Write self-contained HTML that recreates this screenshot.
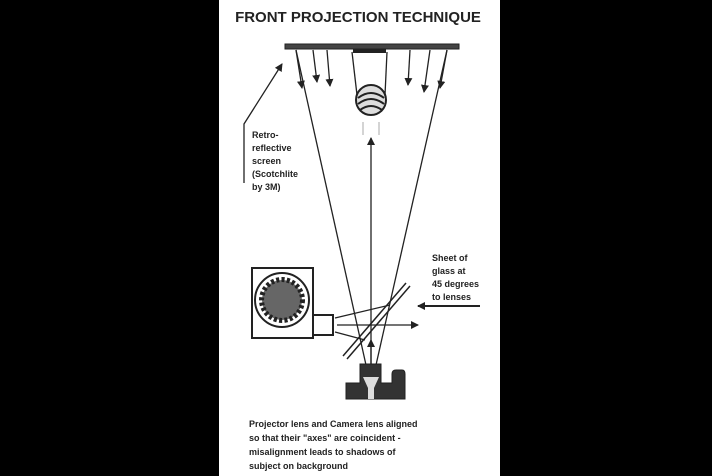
<!DOCTYPE html>
<html><head><style>
body{margin:0;width:712px;height:476px;background:#000;overflow:hidden}
svg{display:block}
text{font-family:"Liberation Sans",sans-serif;font-weight:bold;fill:#222}
</style></head><body>
<svg width="712" height="476" viewBox="0 0 712 476">
<defs><marker id="a" markerWidth="8" markerHeight="8" refX="7" refY="4" orient="auto" markerUnits="userSpaceOnUse"><path d="M0,0 L8,4 L0,8 Z" fill="#222"/></marker></defs>
<rect x="219" y="0" width="281" height="476" fill="#fff"/>
<text x="358" y="22" font-size="15" text-anchor="middle">FRONT PROJECTION TECHNIQUE</text>
<rect x="285" y="44" width="174" height="5" fill="#444" stroke="#222"/>
<rect x="353" y="49" width="33" height="4" fill="#222"/>
<g stroke="#222" stroke-width="1.3" fill="none">
<line x1="313" y1="50" x2="317" y2="82" marker-end="url(#a)"/>
<line x1="327" y1="50" x2="330" y2="86" marker-end="url(#a)"/>
<line x1="410" y1="50" x2="408" y2="85" marker-end="url(#a)"/>
<line x1="430" y1="50" x2="424" y2="92" marker-end="url(#a)"/>
<line x1="296" y1="50" x2="302" y2="88" marker-end="url(#a)"/>
<line x1="447" y1="50" x2="440" y2="88" marker-end="url(#a)"/>
<line x1="296" y1="50" x2="366" y2="365"/>
<line x1="447" y1="50" x2="376" y2="365"/>
<line x1="371" y1="365" x2="371" y2="138" marker-end="url(#a)"/>
<line x1="352" y1="52" x2="357" y2="95"/>
<line x1="387" y1="52" x2="385" y2="95"/>
<polyline points="244,183 244,124 282,64" marker-end="url(#a)"/>
<line x1="480" y1="306" x2="418" y2="306" stroke-width="2" marker-end="url(#a)"/>
<line x1="337" y1="325" x2="418" y2="325" marker-end="url(#a)"/>
<line x1="335" y1="318" x2="390" y2="305"/>
<line x1="335" y1="332" x2="365" y2="340"/>
<line x1="371" y1="370" x2="371" y2="340" marker-end="url(#a)"/>
</g>
<circle cx="371" cy="100" r="15" fill="#ddd" stroke="#222" stroke-width="2"/>
<path d="M358,98 Q371,88 384,98 M358,104 Q371,94 384,104 M360,110 Q371,102 382,110" stroke="#222" fill="none" stroke-width="2"/>
<g stroke="#aaa" stroke-width="1"><line x1="363" y1="135" x2="363" y2="122"/><line x1="379" y1="135" x2="379" y2="122"/></g>
<rect x="252" y="268" width="61" height="70" fill="#fff" stroke="#222" stroke-width="2"/>
<rect x="313" y="315" width="20" height="20" fill="#fff" stroke="#222" stroke-width="2"/>
<circle cx="282" cy="300" r="27" fill="#fff" stroke="#222" stroke-width="2"/>
<circle cx="282" cy="300" r="20" fill="#666" stroke="#222" stroke-width="6" stroke-dasharray="3 2.2"/>
<circle cx="282" cy="300" r="18" fill="#666"/>
<g stroke="#222" stroke-width="1.5"><line x1="343" y1="356" x2="406" y2="283"/><line x1="347" y1="359" x2="410" y2="286"/></g>
<path d="M346,383 H360 V364 H381 V383 H392 V374 Q392,370 396,370 H402 Q405,370 405,374 V399 H346 Z" fill="#333" stroke="#222"/>
<path d="M363,377 L379,377 L374,388 L368,388 Z" fill="#ddd"/>
<rect x="368" y="388" width="6" height="11" fill="#ddd"/>
<g font-size="9">
<text x="252" y="138">Retro-</text><text x="252" y="151">reflective</text><text x="252" y="164">screen</text><text x="252" y="177">(Scotchlite</text><text x="252" y="190">by 3M)</text>
<text x="432" y="261">Sheet of</text><text x="432" y="274">glass at</text><text x="432" y="287">45 degrees</text><text x="432" y="300">to lenses</text>
<text x="249" y="427">Projector lens and Camera lens aligned</text>
<text x="249" y="441">so that their "axes" are coincident -</text>
<text x="249" y="455">misalignment leads to shadows of</text>
<text x="249" y="469">subject on background</text>
</g>
</svg>
</body></html>
